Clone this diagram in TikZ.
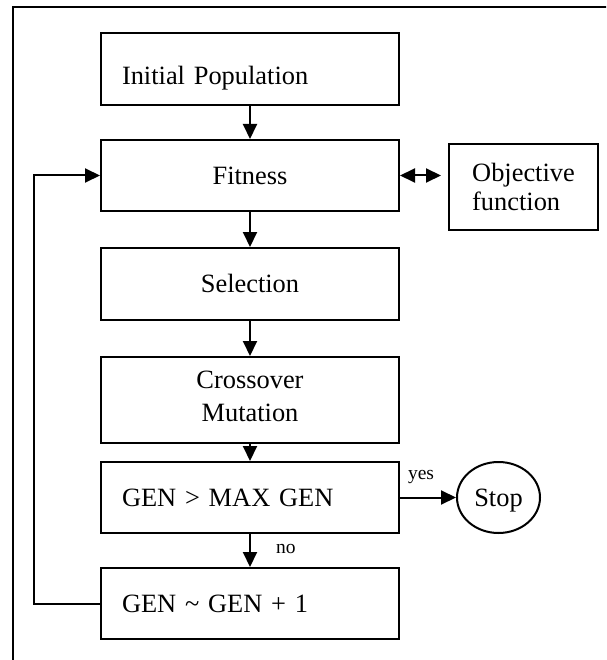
\documentclass[tikz,border=0pt]{standalone}
\usepackage{fontspec}
\setmainfont{Liberation Serif}
\usetikzlibrary{arrows.meta,shapes.geometric}
\begin{document}
\begin{tikzpicture}[x=1pt,y=-1pt,
  font=\fontsize{26.4}{30}\selectfont,
  boxbase/.style={draw,line width=2pt,inner sep=0pt},
  stepbox/.style={boxbase,minimum width=298pt,text height=17.5pt,text depth=0pt},
  leftbox/.style={stepbox,inner xsep=21pt,text width=256pt,align=left},
  flow/.style={line width=2pt,-{Triangle[length=15pt,width=14pt]}},
  tag/.style={font=\fontsize{19.5}{22}\selectfont,inner sep=0pt,anchor=base west},
]
\useasboundingbox (0,0) rectangle (606,660);

% outer frame
\begin{scope}
  \clip (0,0) rectangle (606,660);
  \draw[line width=2pt] (13,690) -- (13,7) -- (640,7);
\end{scope}

% main column of steps
\node[leftbox,minimum height=72pt,text height=32pt] (init) at (250,69) {Initial Population};
\node[stepbox,minimum height=71pt] (fit) at (250,175.5) {Fitness};
\node[stepbox,minimum height=72pt] (sel) at (250,284) {Selection};
\node[boxbase,minimum width=298pt,minimum height=86pt,align=center,
      font=\fontsize{26.4}{33}\selectfont,text depth=8pt] (cross) at (250,400) {Crossover\\Mutation};
\node[leftbox,minimum height=71pt] (gen) at (250,497.5) {GEN > MAX GEN};
\node[leftbox,minimum height=71pt] (inc) at (250,603.5) {GEN \textasciitilde{} GEN + 1};

% side boxes
\node[boxbase,minimum width=149pt,minimum height=86pt,align=left,
      font=\fontsize{26.4}{29.5}\selectfont] (obj) at (523.5,187) {Objective\\function};
\node[boxbase,ellipse,minimum width=83pt,minimum height=71pt,
      text height=17.5pt,text depth=0pt] (stop) at (498.5,497.5) {Stop};

% connectors
\draw[flow] (init) -- (fit);
\draw[flow] (fit) -- (sel);
\draw[flow] (sel) -- (cross);
\draw[flow] (cross) -- (gen);
\draw[flow] (gen) -- node[tag,pos=0,xshift=25pt,yshift=-19pt] (no) {no} (inc);
\draw[flow] (gen) -- node[tag,pos=0,xshift=7pt,yshift=18pt] (yes) {yes} (stop);
\draw[line width=2pt,{Triangle[length=15pt,width=14pt]}-{Triangle[length=15pt,width=14pt]},shorten >=7pt]
  (fit.east) -- (fit.east -| obj.west);
\draw[flow] (inc.west) -- ++(-66,0) |- (fit.west);
\end{tikzpicture}
\end{document}
